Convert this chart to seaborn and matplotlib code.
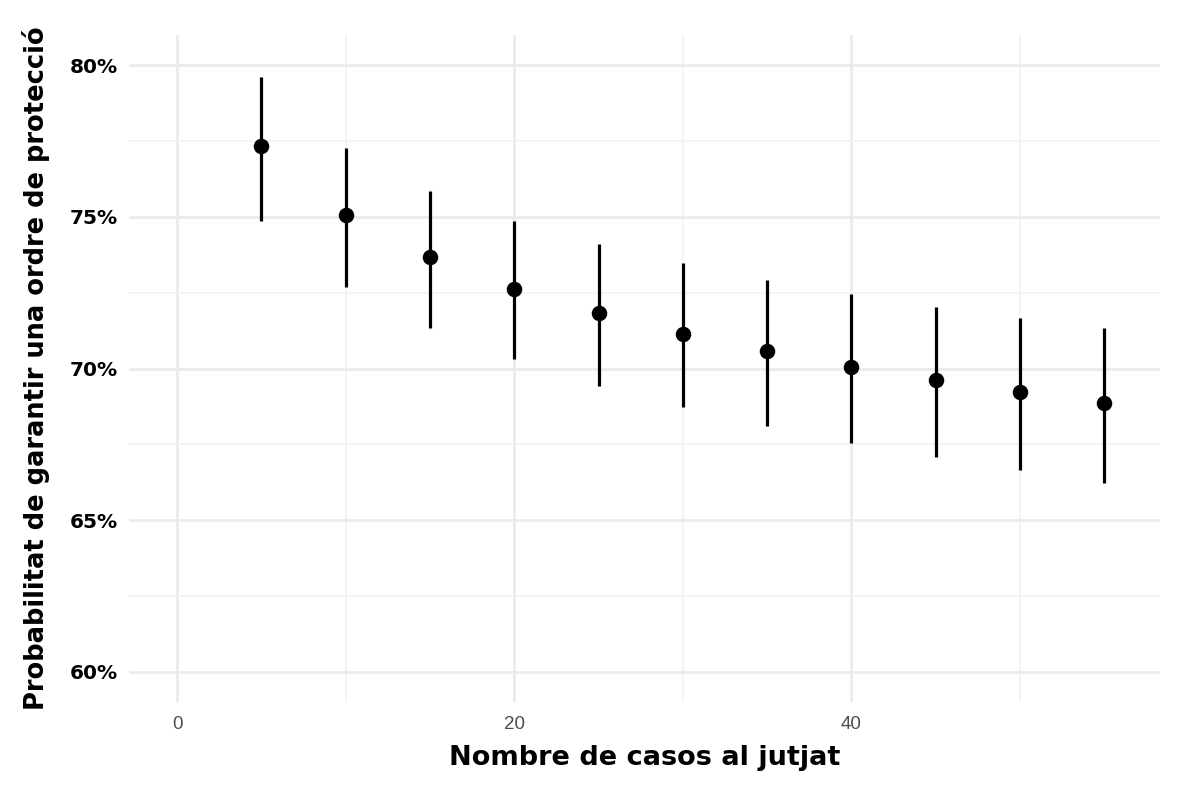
import matplotlib
matplotlib.use("Agg")
import matplotlib.pyplot as plt
import seaborn as sns
import numpy as np
from matplotlib.ticker import FuncFormatter, MultipleLocator

# Data
casos = [5, 10, 15, 20, 25, 30, 35, 40, 45, 50, 55]
prob = [77.33, 75.06, 73.67, 72.62, 71.83, 71.14, 70.58, 70.05, 69.62, 69.23, 68.86]
prob_low = [74.86, 72.69, 71.33, 70.31, 69.42, 68.73, 68.11, 67.55, 67.08, 66.66, 66.23]
prob_high = [79.60, 77.27, 75.85, 74.86, 74.10, 73.48, 72.92, 72.46, 72.03, 71.66, 71.33]

x_ticks = [0, 20, 40]
y_ticks = [60, 65, 70, 75, 80]

sns.set_style("white")
plt.rcParams['font.family'] = ['DejaVu Sans']

fig = plt.figure(figsize=(12, 7.92), dpi=100)
ax = fig.add_axes([0.1075, 0.1136, 0.8592, 0.8422])

# Grid like ggplot theme_minimal
ax.xaxis.set_minor_locator(MultipleLocator(10))
ax.yaxis.set_minor_locator(MultipleLocator(2.5))
ax.grid(True, which='major', color='#ebebeb', linewidth=2.0)
ax.grid(True, which='minor', color='#f2f2f2', linewidth=1.2)
ax.set_axisbelow(True)

# Error bars
ax.vlines(casos, prob_low, prob_high, color='black', linewidth=2.3, zorder=3)
sns.scatterplot(x=casos, y=prob, ax=ax, color='black', s=125,
                edgecolor='black', linewidth=0, zorder=4)

ax.set_xlim(-2.85, 58.3)
ax.set_ylim(59, 81)
ax.set_xticks(x_ticks)
ax.set_yticks(y_ticks)
ax.yaxis.set_major_formatter(FuncFormatter(lambda v, _: f'{v:.0f}%'))

for s in ax.spines.values():
    s.set_visible(False)
ax.tick_params(which='both', length=0)
ax.tick_params(axis='x', pad=10)
ax.tick_params(axis='y', pad=8)

for lab in ax.get_xticklabels():
    lab.set_fontfamily(['Liberation Sans', 'DejaVu Sans'])
    lab.set_fontsize(13.5)
    lab.set_color('#4d4d4d')
for lab in ax.get_yticklabels():
    lab.set_fontsize(14.5)
    lab.set_fontweight('semibold')
    lab.set_color('black')

ax.set_xlabel('Nombre de casos al jutjat', fontsize=19.5, fontweight='bold',
              color='black', labelpad=9)
ax.set_ylabel('Probabilitat de garantir una ordre de protecció', fontsize=18.5,
              fontweight='bold', color='black', labelpad=14)

fig.savefig('out.png', dpi=100)
